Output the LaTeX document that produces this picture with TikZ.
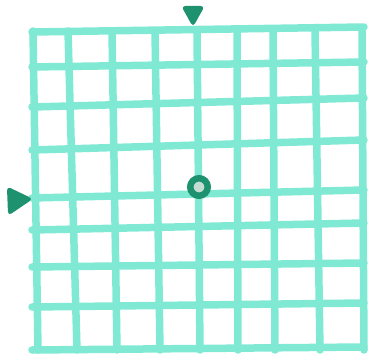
\documentclass[tikz,border=0pt]{standalone}
\usepackage{tikz}
\definecolor{gridaqua}{RGB}{128,233,212}
\definecolor{markgreen}{RGB}{30,146,110}
\definecolor{holegray}{RGB}{196,220,212}
\tikzset{
  gridline/.style={draw=gridaqua, line width=0.75cm, line cap=round},
  marker/.style={fill=markgreen, draw=markgreen, line width=0.2cm,
                 rounded corners=0.25cm},
  origin/.style={circle, draw=markgreen, fill=holegray, line width=0.65cm,
                 minimum size=1.75cm, inner sep=0pt},
}
\begin{document}
\begin{tikzpicture}[x=0.1cm,y=-0.1cm]
  \path[use as bounding box] (0,0) rectangle (372,362);

  % Vertical strokes, top x / bottom x.
  \foreach \xt/\xb in {33/38, 68/77, 112/117, 155/160, 197/200,
                       237/238, 273/275, 315/320, 362/364}{
    \draw[gridline] (\xt,31) -- (\xb,350);
  }

  % Horizontal strokes, left y / right y.
  \foreach \yl/\yr in {32/27, 67/62, 107/98, 150/140, 198/190,
                       230/223, 267/263, 307/303, 350/347}{
    \draw[gridline] (32,\yl) -- (364,\yr);
  }

  % Markers on the top and left edge.
  \draw[marker] (183,7) -- (203,7) -- (193,25) -- cycle;
  \draw[marker] (8,188) -- (31,199) -- (9,214) -- cycle;

  % Centre mark.
  \node[origin] (centre) at (199,187) {};
\end{tikzpicture}
\end{document}
